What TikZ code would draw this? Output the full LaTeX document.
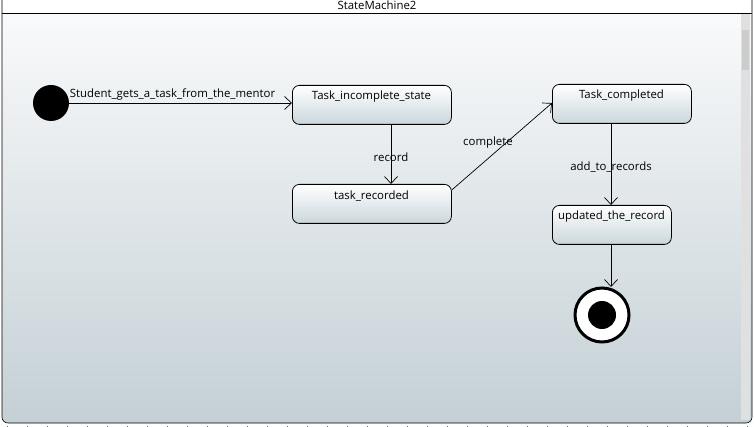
\documentclass[tikz,border=0pt]{standalone}
\usepackage{fontspec}
\setmainfont{Open Sans}
\usetikzlibrary{arrows.meta,shapes.misc}
\definecolor{bgtop}{HTML}{F9FAFB}
\definecolor{bgbot}{HTML}{C4D0D5}
\definecolor{boxbot}{HTML}{CAD6DC}
\tikzset{
  st/.style={draw=black, line width=0.8pt, rounded corners=7pt, top color=white, bottom color=boxbot, minimum height=39pt, anchor=north west, inner sep=0pt},
  lbl/.style={font=\fontsize{11.4}{12}\selectfont, inner sep=0pt},
  tr/.style={draw=black, line width=0.7pt, -{Straight Barb[length=7pt,width=13pt,line width=0.7pt]}},
}
\begin{document}
\begin{tikzpicture}[x=1pt,y=-1pt]
\useasboundingbox (0,0) rectangle (754,427);
\fill[white] (0,0) rectangle (754,427);
% frame
\shade[top color=bgtop, bottom color=bgbot, rounded corners=6pt] (2,13) rectangle (752,423);
\fill[white] (2,0) rectangle (752,13);
\fill[black!12] (741,14) rectangle (750,420);
\fill[black!20] (742,30) rectangle (749,70);
\draw[line width=0.8pt] (2,13) -- (752,13);
\draw[line width=0.6pt, rounded corners=6pt] (2,0) -- (2,423) -- (752,423) -- (752,0);
\node[lbl] (title) at (377,5.5) {StateMachine2};
\foreach \i in {0,...,37} { \fill[black!60] (7+\i*20,426) rectangle ++(1.2,1); }
% initial
\node[circle, fill=black, minimum size=36pt, inner sep=0pt] (init) at (51,103) {};
% states
\node[st, minimum width=159pt] (inc) at (292,85) {};
\node[lbl] at (371.5,96.5) {Task\_incomplete\_state};
\node[st, minimum width=159pt] (rec) at (292,184) {};
\node[lbl] at (371.5,196.5) {task\_recorded};
\node[st, minimum width=139pt] (comp) at (552,84) {};
\node[lbl] at (621.5,96) {Task\_completed};
\node[st, minimum width=119pt] (upd) at (552,205) {};
\node[lbl] at (611.5,216.5) {updated\_the\_record};
% final
\node[circle, draw=black, line width=3pt, fill=white, minimum size=54pt, inner sep=0pt] (fin) at (602,315) {};
\node[circle, fill=black, minimum size=28pt, inner sep=0pt] (finin) at (602,315) {};
% transitions
\draw[tr] (init.east) -- (inc.west |- init.east);
\node[lbl] at (172.5,94.5) {Student\_gets\_a\_task\_from\_the\_mentor};
\draw[tr] (391,124) -- (391,184);
\node[lbl] at (391,157.5) {record};
\draw[tr] (rec.east |- 0,190) -- (comp.west |- 0,103);
\node[lbl] at (488,142.5) {complete};
\draw[tr] (611,124) -- (611,205);
\node[lbl] at (611,167.5) {add\_to\_records};
\draw[tr] (611,244) -- (611,287);
\end{tikzpicture}
\end{document}
